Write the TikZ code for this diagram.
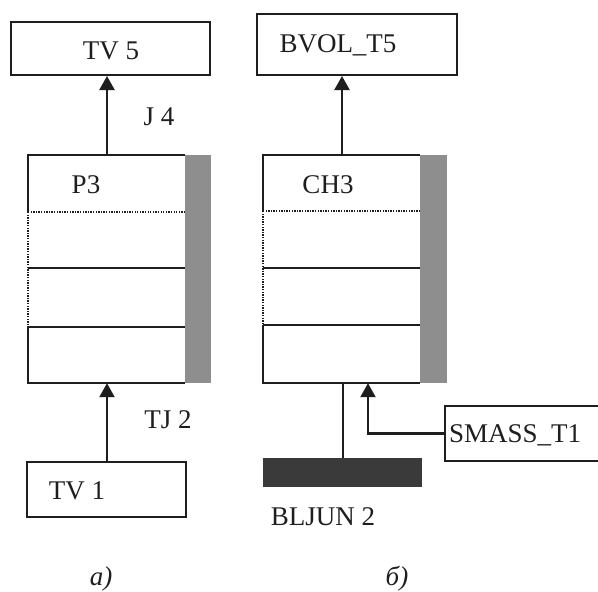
\documentclass[tikz,border=0pt]{standalone}
\usepackage{fontspec}
\setmainfont{Liberation Serif}
\usetikzlibrary{arrows.meta}
\definecolor{ink}{HTML}{1E1E1E}
\definecolor{bargray}{HTML}{8E8E8E}
\definecolor{bardark}{HTML}{3A3A3A}
\begin{document}
\begin{tikzpicture}[x=1pt,y=-1pt,
  box/.style={draw=ink, line width=2pt, inner sep=0, fill=white},
  blk/.style={inner sep=0},
  bar/.style={fill=bargray, inner sep=0, minimum width=26pt, minimum height=228pt},
  ln/.style={draw=ink, line width=2pt},
  dotln/.style={draw=ink, line width=1.6pt, dash pattern=on 1.3pt off 1.3pt},
  arr/.style={draw=ink, line width=2.2pt, -{Triangle[width=15pt,length=14pt]}},
  txt/.style={font=\fontsize{27}{30}\selectfont, text=ink, inner sep=0, anchor=base},
  captxt/.style={font=\fontsize{27}{30}\selectfont\itshape, text=ink, inner sep=0, anchor=base}]
\useasboundingbox (0,0) rectangle (598,592);
\fill[white] (0,0) rectangle (598,592);

% ---------- a) ----------
\node[box, minimum width=199pt, minimum height=53pt] (tv5) at (110.5,48.5) {};
\node[txt] (tv5t) at (111,59) {TV 5};
\node[blk, minimum width=157pt, minimum height=228pt] (p3) at (106.5,269) {};
\node[bar] (p3bar) at (198,269) {};
\draw[ln] (185,155) -- (28,155) -- (28,212);
\draw[dotln] (28,212) -- (28,327);
\draw[ln] (28,327) -- (28,383) -- (185,383);
\draw[dotln] (28,212) -- (185,212);
\draw[ln] (28,268) -- (185,268);
\draw[ln] (28,327) -- (185,327);
\node[txt] (p3t) at (86,193) {P3};
\node[box, minimum width=159pt, minimum height=55pt] (tv1) at (106.5,489.5) {};
\node[txt] (tv1t) at (77,499) {TV 1};
\coordinate (ax) at (107,0);
\draw[arr] (p3.north -| ax) -- (tv5.south -| ax);
\draw[arr] (tv1.north -| ax) -- (p3.south -| ax);
\node[txt] (j4) at (159,125) {J 4};
\node[txt] (tj2) at (168,428) {TJ 2};
\node[captxt] (capa) at (101,585) {a)};

% ---------- b) ----------
\node[box, minimum width=200pt, minimum height=61pt] (bvol) at (357,44.5) {};
\node[txt] (bvolt) at (338,52) {BVOL\_T5};
\node[blk, minimum width=157pt, minimum height=228pt] (ch3) at (341.5,269) {};
\node[bar, minimum width=27pt] (ch3bar) at (433.5,269) {};
\draw[ln] (420,155) -- (263,155) -- (263,211);
\draw[dotln] (263,211) -- (263,325);
\draw[ln] (263,325) -- (263,383) -- (420,383);
\draw[dotln] (263,211) -- (420,211);
\draw[ln] (263,268) -- (420,268);
\draw[ln] (263,325) -- (420,325);
\node[txt] (ch3t) at (328,193) {CH3};
\coordinate (bx) at (342,0);
\draw[arr] (ch3.north -| bx) -- (bvol.south -| bx);
\node[fill=bardark, inner sep=0, minimum width=159pt, minimum height=29pt] (bljun) at (342.5,472.5) {};
\node[txt] (bljunt) at (323,525) {BLJUN 2};
\coordinate (jx) at (343,0);
\draw[ln] (bljun.north -| jx) -- (ch3.south -| jx);
\node[box, minimum width=154pt, minimum height=55pt] (smass) at (522,433.5) {};
\node[txt, anchor=base west] (smasst) at (449,442) {SMASS\_T1};
\coordinate (sx) at (368,0);
\draw[arr] (smass.west) -| (ch3.south -| sx);
\node[captxt] (capb) at (397,585) {б)};
\end{tikzpicture}
\end{document}
